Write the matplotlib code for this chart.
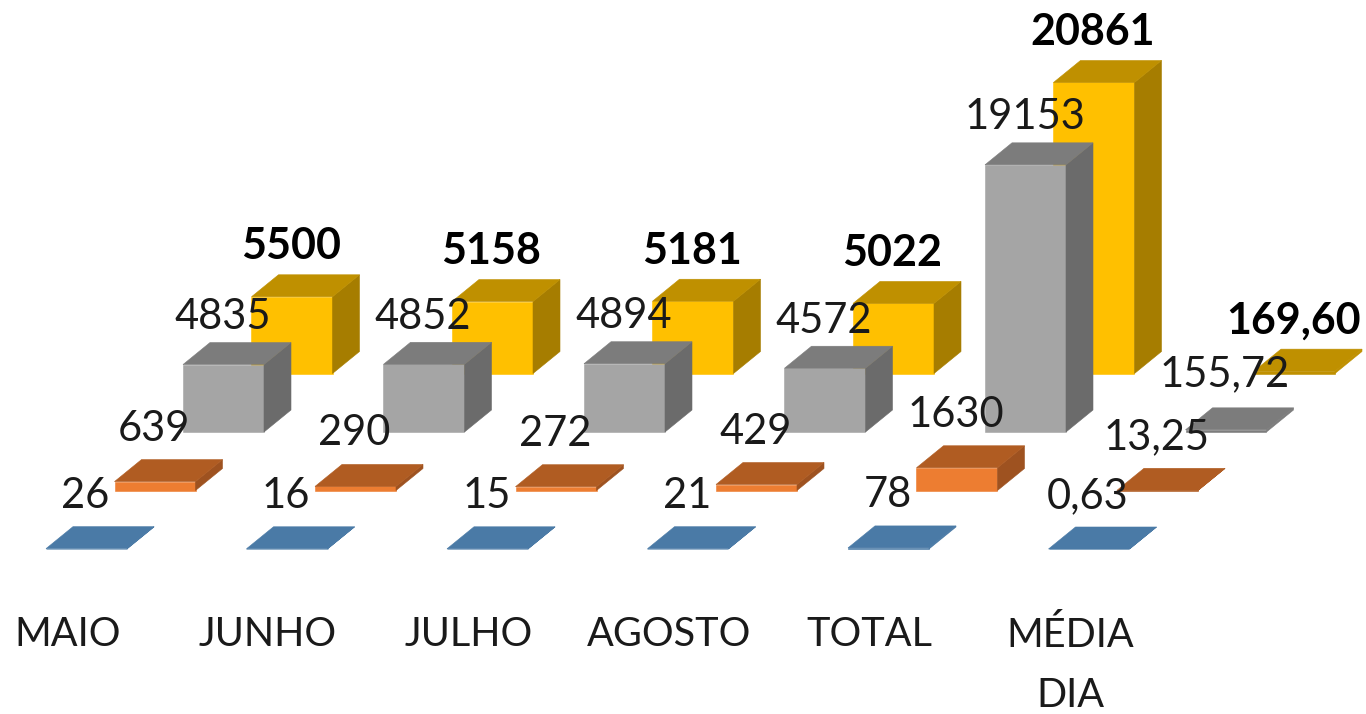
import matplotlib
matplotlib.use('Agg')
import matplotlib.pyplot as plt
from matplotlib.patches import Polygon

categories = ['MAIO', 'JUNHO', 'JULHO', 'AGOSTO', 'TOTAL', 'MÉDIA\nDIA']
serie_1 = [26, 16, 15, 21, 78, 0.63]
serie_2 = [639, 290, 272, 429, 1630, 13.25]
serie_3 = [4835, 4852, 4894, 4572, 19153, 155.72]
serie_4 = [5500, 5158, 5181, 5022, 20861, 169.60]
series = [serie_1, serie_2, serie_3, serie_4]

# front, top, side
colors = [('#4a7aa6', '#4a7aa6', '#4a7aa6'),
          ('#ed7d31', '#b05c22', '#9e5220'),
          ('#a5a5a5', '#7c7c7c', '#6b6b6b'),
          ('#ffc000', '#bf9000', '#a67d00')]

# oblique projection, in axis units (category / value)
PX_X = 200.5
PX_Y = 0.01395
bar_w = 81 / PX_X
depth_x = 27 / PX_X
depth_y = 22 / PX_Y
step_x = 68.5 / PX_X
step_y = 58.5 / PX_Y
label_rise = [53, 53, 47.5, 50.5]  # px above the top of each series


def fmt(v, cat):
    if cat == 5:
        return f'{v:.2f}'.replace('.', ',')
    return str(v)


plt.rcParams['font.family'] = ['Lato', 'DejaVu Sans']
fig = plt.figure(figsize=(13.66, 7.14), dpi=100)
ax = fig.add_axes([0, 0, 1, 1])
ax.set_xlim(-86.5 / PX_X, (1366 - 86.5) / PX_X)
ax.set_ylim(-165 / PX_Y, 549 / PX_Y)
ax.axis('off')


def draw_bar(x, base, h, cols):
    x0 = x - bar_w / 2
    x1 = x + bar_w / 2
    top = base + h
    # very flat bars only show their top in the reference
    front, side = (cols[1], cols[1]) if h * PX_Y < 3 else (cols[0], cols[2])
    faces = [
        ([(x0, base), (x1, base), (x1, top), (x0, top)], front),
        ([(x1, base), (x1 + depth_x, base + depth_y), (x1 + depth_x, top + depth_y), (x1, top)], side),
        ([(x0, top), (x1, top), (x1 + depth_x, top + depth_y), (x0 + depth_x, top + depth_y)], cols[1]),
    ]
    for pts, c in faces:
        ax.add_patch(Polygon(pts, closed=True, fc=c, ec=c, lw=0.4, zorder=2))


for s in range(3, -1, -1):
    for i, v in enumerate(series[s]):
        draw_bar(i + s * step_x, s * step_y, v, colors[s])

for s, vals in enumerate(series):
    for i, v in enumerate(vals):
        rise = label_rise[s]
        if s == 2 and i == 5:
            rise = 56
        ax.text(i + s * step_x - 1 / PX_X, s * step_y + v + rise / PX_Y, fmt(v, i),
                ha='center', va='center', fontsize=31 if s == 3 else 30,
                color='#1a1a1a' if s < 3 else 'black',
                fontweight='bold' if s == 3 else 'normal', zorder=5)

for i, name in enumerate(categories):
    ax.text(i - 19 / PX_X, -67 / PX_Y, name, ha='center', va='top', fontsize=28.5,
            color='#1a1a1a', linespacing=1.78, zorder=5)

fig.savefig('out.png', dpi=100, facecolor='white')
